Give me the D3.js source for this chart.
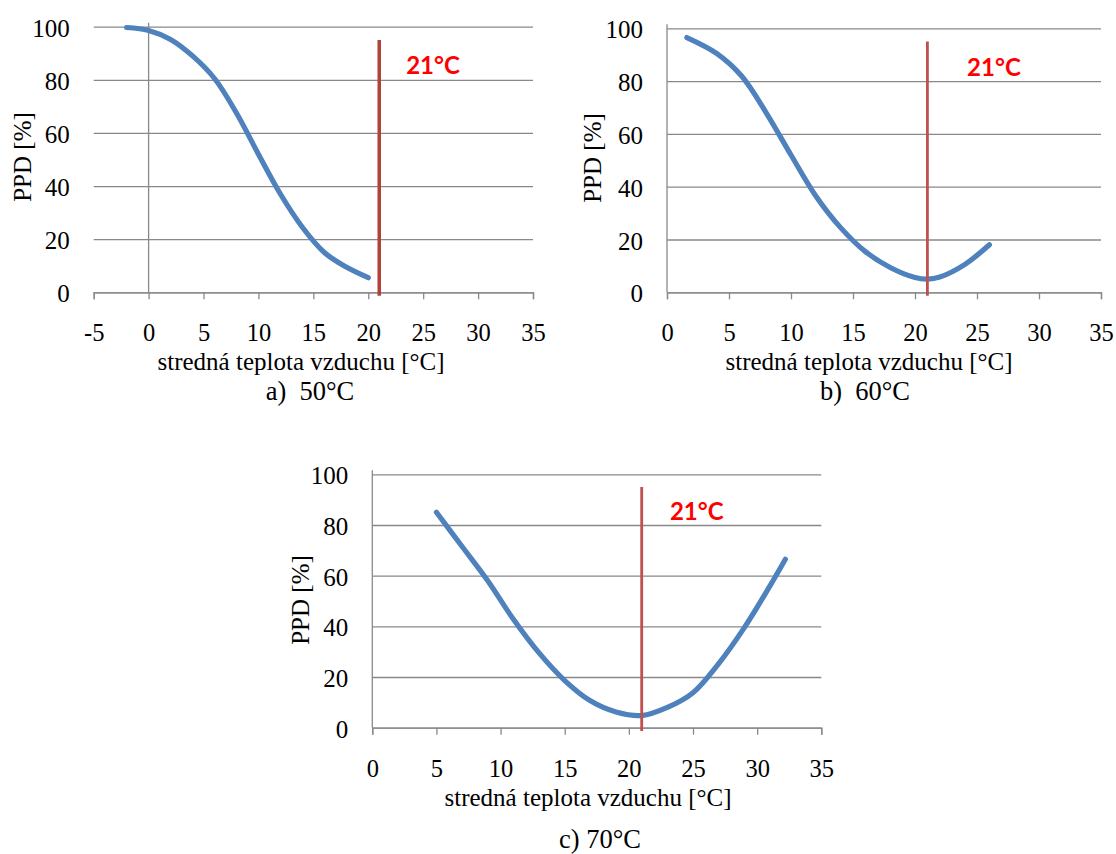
<!DOCTYPE html>
<html>
<head>
<meta charset="utf-8">
<script src="https://cdn.jsdelivr.net/npm/d3@7"></script>
<style>
  body { margin:0; background:#fff; }
  svg text { font-family:"Liberation Serif","Times New Roman",serif; fill:#000; }
</style>
</head>
<body>
<svg width="1116" height="854"></svg>
<script>
// PPD vs. stredná teplota vzduchu, three panels (50 / 60 / 70 °C)

// ---------- data ----------
const tempA = [-2, 0, 2, 4, 6, 8, 10, 12, 14, 16, 18, 20];
const ppdA  = [99.7, 98.6, 95.2, 89, 80.5, 67.5, 52, 37, 24.5, 15, 9.5, 5.5];

const tempB = [1.6, 4, 6, 8, 10, 12, 14, 16, 18, 20, 21, 22, 24, 26];
const ppdB  = [96.5, 90.5, 82, 68, 52, 36.5, 24.5, 15.4, 9.4, 5.6, 5, 5.8, 10.5, 18];

const tempC = [5, 7, 9, 11, 13, 15, 17, 19, 21, 23, 25, 27, 29, 31, 32.2];
const ppdC  = [85, 71.5, 58, 42.8, 29.5, 18.6, 10.6, 6.2, 4.8, 8, 13.8, 25.3, 39.5, 56, 66.5];

const xTicksA  = [-5, 0, 5, 10, 15, 20, 25, 30, 35];
const xTicksBC = [0, 5, 10, 15, 20, 25, 30, 35];
const yTicks   = [0, 20, 40, 60, 80, 100];

const refTemp  = 21;          // vertical marker
const refLine  = [-1.3, 95];  // its extent on the PPD axis
const refLabel = "21°C";
const xTitle = "stredná teplota vzduchu [°C]";
const yTitle = "PPD [%]";

// ---------- layout ----------
const C = {
  curve: "#4f81bd",
  grid:  "#898989",
  label: "#ff0000"
};

const panels = [
  { temp: tempA, ppd: ppdA, xTicks: xTicksA, left: 93.7, right: 533, top: 26.7, bottom: 292.3,
    refColor: "#b0423c", refWidth: 3.5, labelX: 23.45,
    xTitleX: 301, yTitleX: 22.5, yTitleY: 157,
    caption: "a)\u00a0\u00a050°C", capX: 310, capY: 399.5 },
  { temp: tempB, ppd: ppdB, xTicks: xTicksBC, left: 667, right: 1101, top: 28.3, bottom: 292.3,
    refColor: "#c0504d", refWidth: 2.8, labelX: 24.2,
    xTitleX: 869, yTitleX: 592, yTitleY: 158,
    caption: "b)\u00a0\u00a060°C", capX: 865, capY: 399.5 },
  { temp: tempC, ppd: ppdC, xTicks: xTicksBC, left: 372.3, right: 821.3, top: 474.3, bottom: 727.7,
    refColor: "#c0504d", refWidth: 2.8, labelX: 23.2,
    xTitleX: 588, yTitleX: 300, yTitleY: 600,
    caption: "c) 70°C", capX: 600, capY: 848 }
];

const svg = d3.select("svg");

panels.forEach(p => {
  const x = d3.scaleLinear().domain([p.xTicks[0], 35]).range([p.left, p.right]);
  const y = d3.scaleLinear().domain([0, 100]).range([p.bottom, p.top]);
  const g = svg.append("g");

  // horizontal gridlines + y labels
  const ya = g.append("g").attr("transform", `translate(${p.left},0)`)
    .call(d3.axisLeft(y).tickValues(yTicks).tickFormat(d => String(d))
      .tickSizeInner(-(p.right - p.left)).tickSizeOuter(0).tickPadding(24));
  ya.select(".domain").remove();
  ya.selectAll("line").attr("stroke", C.grid).attr("stroke-width", 1.3);
  ya.selectAll("text").attr("font-family", null).attr("font-size", 25).attr("dy", "0.38em");

  // x axis
  const xa = g.append("g").attr("transform", `translate(0,${p.bottom})`)
    .call(d3.axisBottom(x).tickValues(p.xTicks).tickFormat(d => String(d))
      .tickSizeInner(7).tickSizeOuter(7).tickPadding(24.6));
  xa.select(".domain").attr("stroke", C.grid).attr("stroke-width", 1.3);
  xa.selectAll("line").attr("stroke", C.grid).attr("stroke-width", 1.3);
  xa.selectAll("text").attr("font-family", null).attr("font-size", 24.5);

  // vertical axis at 0
  g.append("line")
    .attr("x1", x(0)).attr("x2", x(0))
    .attr("y1", y(0)).attr("y2", y(100) - 4)
    .attr("stroke", C.grid).attr("stroke-width", 1.3);

  // curve
  const pts = p.temp.map((t, i) => [t, p.ppd[i]]);
  g.append("path").datum(pts)
    .attr("fill", "none").attr("stroke", C.curve).attr("stroke-width", 5.2)
    .attr("stroke-linecap", "round").attr("stroke-linejoin", "round")
    .attr("d", d3.line().x(d => x(d[0])).y(d => y(d[1])).curve(d3.curveCatmullRom.alpha(0.5)));

  // 21 °C marker
  g.append("line")
    .attr("x1", x(refTemp)).attr("x2", x(refTemp))
    .attr("y1", y(refLine[0])).attr("y2", y(refLine[1]))
    .attr("stroke", p.refColor).attr("stroke-width", p.refWidth);
  g.append("text")
    .attr("x", x(p.labelX)).attr("y", y(85.3)).attr("dy", "0.36em")
    .style("font-family", "Lato, 'Liberation Sans', sans-serif")
    .style("fill", C.label).attr("font-weight", 700).attr("font-size", 24)
    .text(refLabel);

  // titles
  g.append("text").attr("x", p.xTitleX).attr("y", p.bottom + 78)
    .attr("text-anchor", "middle").attr("font-size", 25).text(xTitle);
  g.append("text")
    .attr("transform", `translate(${p.yTitleX},${p.yTitleY}) rotate(-90)`)
    .attr("text-anchor", "middle").attr("dy", "0.35em").attr("font-size", 25).text(yTitle);
  g.append("text").attr("x", p.capX).attr("y", p.capY)
    .attr("text-anchor", "middle").attr("font-size", 26.5).text(p.caption);
});
</script>
</body>
</html>
